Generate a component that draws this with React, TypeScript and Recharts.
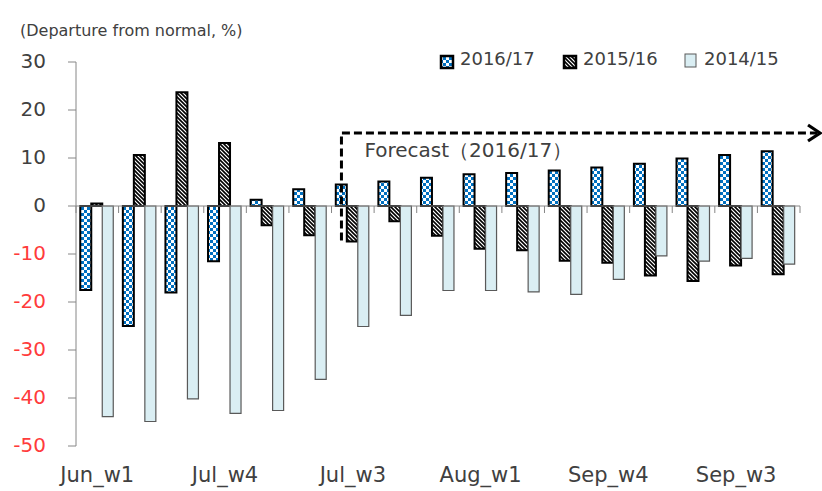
import {
  Bar,
  BarChart,
  Legend,
  ReferenceLine,
  XAxis,
  YAxis,
} from 'recharts';

const FONT = '"DejaVu Sans", Verdana, sans-serif';

// weekly categories (only every third label is shown on the axis)
const weeks = [
  'Jun_w1', 'Jun_w2', 'Jun_w3', 'Jul_w4', 'Jul_w5', 'Jul_w1',
  'Jul_w3', 'Jul_w2', 'Aug_w5', 'Aug_w1', 'Aug_w2', 'Aug_w3',
  'Sep_w4', 'Sep_w5', 'Sep_w1', 'Sep_w3', 'Sep_w2',
];

// departure from normal, %
const season1617 = [-17.5, -25, -18, -11.5, 1.3, 3.5, 4.5, 5.1, 5.9, 6.6, 6.9, 7.4, 8.0, 8.8, 9.9, 10.6, 11.4];
const season1516 = [0.5, 10.6, 23.7, 13.1, -4.0, -6.1, -7.4, -3.2, -6.2, -8.9, -9.2, -11.4, -11.8, -14.5, -15.6, -12.4, -14.2];
const season1415 = [-43.9, -44.9, -40.2, -43.2, -42.6, -36.1, -25.1, -22.8, -17.6, -17.6, -17.9, -18.4, -15.3, -10.4, -11.5, -10.9, -12.1];

const yTicks = [30, 20, 10, 0, -10, -20, -30, -40, -50];

const data = weeks.map((week, i) => ({
  week,
  s1617: season1617[i],
  s1516: season1516[i],
  s1415: season1415[i],
}));

const series = [
  { key: 's1617', name: '2016/17', fill: 'url(#checker)', stroke: '#000', strokeWidth: 2 },
  { key: 's1516', name: '2015/16', fill: 'url(#stripes)', stroke: '#000', strokeWidth: 2 },
  { key: 's1415', name: '2014/15', fill: '#DAEEF3', stroke: '#595959', strokeWidth: 1.2 },
];

function Patterns() {
  return (
    <svg width={0} height={0} style={{ position: 'absolute' }}>
      <defs>
        <pattern id="checker" patternUnits="userSpaceOnUse" width={6} height={6}>
          <rect width={6} height={6} fill="#fff" />
          <rect x={0} y={0} width={3} height={3} fill="#0070C0" />
          <rect x={3} y={3} width={3} height={3} fill="#0070C0" />
        </pattern>
        <pattern id="stripes" patternUnits="userSpaceOnUse" width={4} height={4}>
          <rect width={4} height={4} fill="#fff" />
          <path d="M-1,-1 L5,5 M-1,3 L1,5 M3,-1 L5,1" stroke="#000" strokeWidth={1.6} />
        </pattern>
      </defs>
    </svg>
  );
}

function YTick(props: any) {
  const { x, y, payload } = props;
  const v = payload.value;
  return (
    <text x={x} y={y} dy={6} textAnchor="end" fontSize={20} fontFamily={FONT} fill={v < 0 ? '#FF3B3B' : '#404040'}>
      {v}
    </text>
  );
}

const legendX = [2, 125, 246];

function LegendContent() {
  return (
    <svg width={360} height={26}>
      {series.map((s, i) => (
        <g key={s.key} transform={`translate(${legendX[i]},0)`}>
          <rect
            x={1}
            y={i === 2 ? 6 : 8}
            width={i === 2 ? 11 : 12}
            height={i === 2 ? 13 : 12}
            fill={s.fill}
            stroke={s.stroke}
            strokeWidth={i === 2 ? 1 : 2.5}
          />
          <text x={20} y={17} fontSize={18} fontFamily={FONT} fill="#404040">
            {s.name}
          </text>
        </g>
      ))}
    </svg>
  );
}

// zero line with tick marks on the category boundaries
function ZeroAxis(props: any) {
  const { x1, y1, x2 } = props;
  const band = (x2 - x1) / (weeks.length - 1);
  const start = x1 - band / 2;
  const end = x2 + band / 2;
  const d = [`M${start},${y1} L${end},${y1}`];
  for (let i = 0; i <= weeks.length; i++) {
    const tx = start + i * band;
    d.push(`M${tx},${y1} L${tx},${y1 + 7}`);
  }
  return <path d={d.join(' ')} stroke="#868686" strokeWidth={1} fill="none" />;
}

// dashed L-shaped forecast arrow, built from the reference segment endpoints
function ForecastArrow(props: any) {
  const { x1, y1, x2, y2 } = props;
  const band = (x2 - x1) / 10;
  const vx = x1 - band * 0.267;
  const top = Math.min(y1, y2);
  const bottom = Math.max(y1, y2);
  const tip = x2 + band * 0.97;
  return (
    <g>
      <path d={`M${vx},${bottom} L${vx},${top} L${tip - 3},${top}`} fill="none" stroke="#000" strokeWidth={3} strokeDasharray="8 4" />
      <path d={`M${tip - 12},${top - 8} L${tip},${top} L${tip - 12},${top + 8}`} fill="none" stroke="#000" strokeWidth={3.2} />
      <text x={vx + 23} y={top + 24} fontSize={20} fontFamily={FONT} fill="#404040">
        Forecast（2016/17）
      </text>
    </g>
  );
}

export default function App() {
  return (
    <div style={{ position: 'absolute', left: 0, top: 0, width: 822, height: 491, background: '#fff', fontFamily: FONT }}>
      <Patterns />
      <div style={{ position: 'absolute', left: 20, top: 23, fontSize: 16, lineHeight: '16px', color: '#404040', whiteSpace: 'nowrap' }}>
        (Departure from normal, %)
      </div>
      <BarChart
        width={822}
        height={491}
        data={data}
        margin={{ top: 62, right: 22, left: 16, bottom: 0 }}
        barCategoryGap="10%"
        barGap={0}
      >
        <XAxis
          dataKey="week"
          allowDuplicatedCategory={false}
          interval={2}
          height={45}
          axisLine={false}
          tickLine={false}
          tickMargin={15}
          tick={{ fontSize: 21, fill: '#404040', fontFamily: FONT }}
        />
        <YAxis
          width={60}
          domain={[-50, 30]}
          ticks={yTicks}
          interval={0}
          stroke="#868686"
          tickSize={8}
          tickMargin={22}
          tick={<YTick />}
        />
        <Legend
          layout="vertical"
          verticalAlign="middle"
          align="center"
          content={<LegendContent />}
          wrapperStyle={{ top: 48, left: 438, width: 360, height: 26 }}
        />
        <ReferenceLine
          segment={[{ x: weeks[0], y: 0 }, { x: weeks[weeks.length - 1], y: 0 }]}
          shape={<ZeroAxis />}
        />
        {series.map((s) => (
          <Bar
            key={s.key}
            dataKey={s.key}
            name={s.name}
            fill={s.fill}
            stroke={s.stroke}
            strokeWidth={s.strokeWidth}
            isAnimationActive={false}
          />
        ))}
        <ReferenceLine
          segment={[{ x: weeks[6], y: -7.2 }, { x: weeks[16], y: 15.2 }]}
          shape={<ForecastArrow />}
        />
      </BarChart>
    </div>
  );
}
